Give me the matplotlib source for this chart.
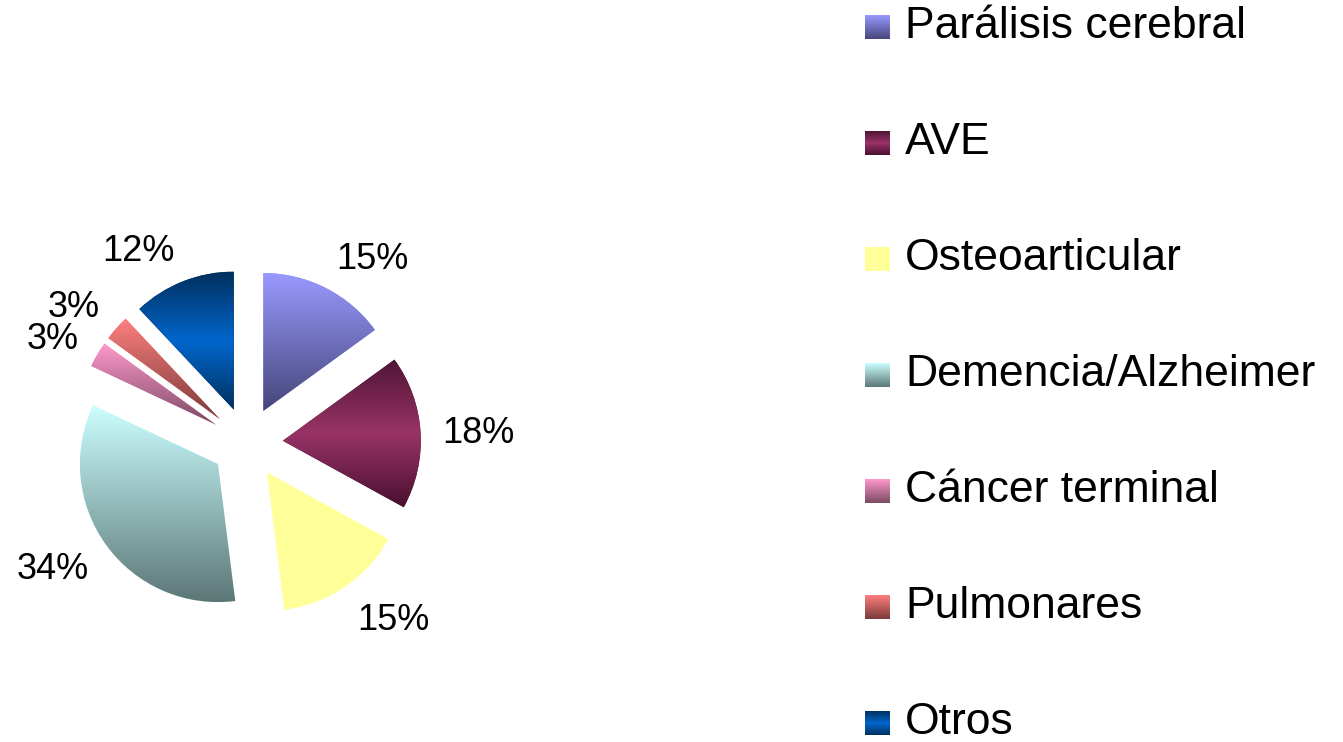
import numpy as np
import matplotlib
matplotlib.use('Agg')
import matplotlib.pyplot as plt
from matplotlib.colors import LinearSegmentedColormap

plt.rcParams['font.family'] = ['Liberation Sans', 'DejaVu Sans']

# ---- data ----
categories = ['Parálisis cerebral', 'AVE', 'Osteoarticular', 'Demencia/Alzheimer',
              'Cáncer terminal', 'Pulmonares', 'Otros']
values = [15, 18, 15, 34, 3, 3, 12]
pct_labels = ['15%', '18%', '15%', '34%', '3%', '3%', '12%']

# gradient stops (top -> bottom) for each category
gradients = [
    ['#9999FF', '#46467A'],
    ['#4F1535', '#993366', '#4A1030'],
    ['#FFFF99', '#FFFF99'],
    ['#CCFFFF', '#5C7676'],
    ['#FF99CC', '#7A4A62'],
    ['#FF8080', '#7A3A3A'],
    ['#00305E', '#0066CC', '#00305E'],
]

W, H = 1343, 742
fig = plt.figure(figsize=(W / 100, H / 100), dpi=100)
fig.patch.set_facecolor('white')

cx, cy, R = 247, 443, 138   # pie centre (px) and radius (px)

ax = fig.add_axes([0, 0, 1, 1])
wedges, _ = ax.pie(values, startangle=90, counterclock=False,
                   explode=[0.26] * len(values), radius=1,
                   wedgeprops=dict(linewidth=0))


def grad_array(stops):
    cmap = LinearSegmentedColormap.from_list('g', stops)
    return cmap(np.linspace(0, 1, 256))[:, None, :]


for w, stops in zip(wedges, gradients):
    w.set_facecolor(stops[0])
    bb = w.get_path().get_extents()
    im = ax.imshow(grad_array(stops), extent=(bb.x0, bb.x1, bb.y0, bb.y1),
                   origin='upper', aspect='auto', interpolation='bilinear', zorder=2)
    im.set_clip_path(w)

for w, txt in zip(wedges, pct_labels):
    mid = np.deg2rad((w.theta1 + w.theta2) / 2)
    c, s = np.cos(mid), np.sin(mid)
    ax.annotate(txt, xy=(1.42 * c, 1.42 * s), xytext=(0, 14 * s - 13),
                textcoords='offset pixels', ha='left' if c > 0 else 'right',
                va='baseline', fontsize=26, color='black', zorder=5)

ax.set_aspect('auto')
ax.set_xlim(-cx / R, (W - cx) / R)
ax.set_ylim(-(H - cy) / R, cy / R)
ax.axis('off')

# ---- legend (pixel coordinates) ----
lax = fig.add_axes([0, 0, 1, 1])
lax.patch.set_alpha(0)
for i, (lab, stops) in enumerate(zip(categories, gradients)):
    base = 38 + 116 * i
    lax.imshow(grad_array(stops), extent=(865, 890, base + 1, base - 23),
               origin='upper', aspect='auto', interpolation='bilinear')
    lax.text(905, base, lab, fontsize=32, va='baseline', ha='left', color='black')
lax.set_xlim(0, W)
lax.set_ylim(H, 0)
lax.axis('off')

fig.savefig('out.png', dpi=100)
